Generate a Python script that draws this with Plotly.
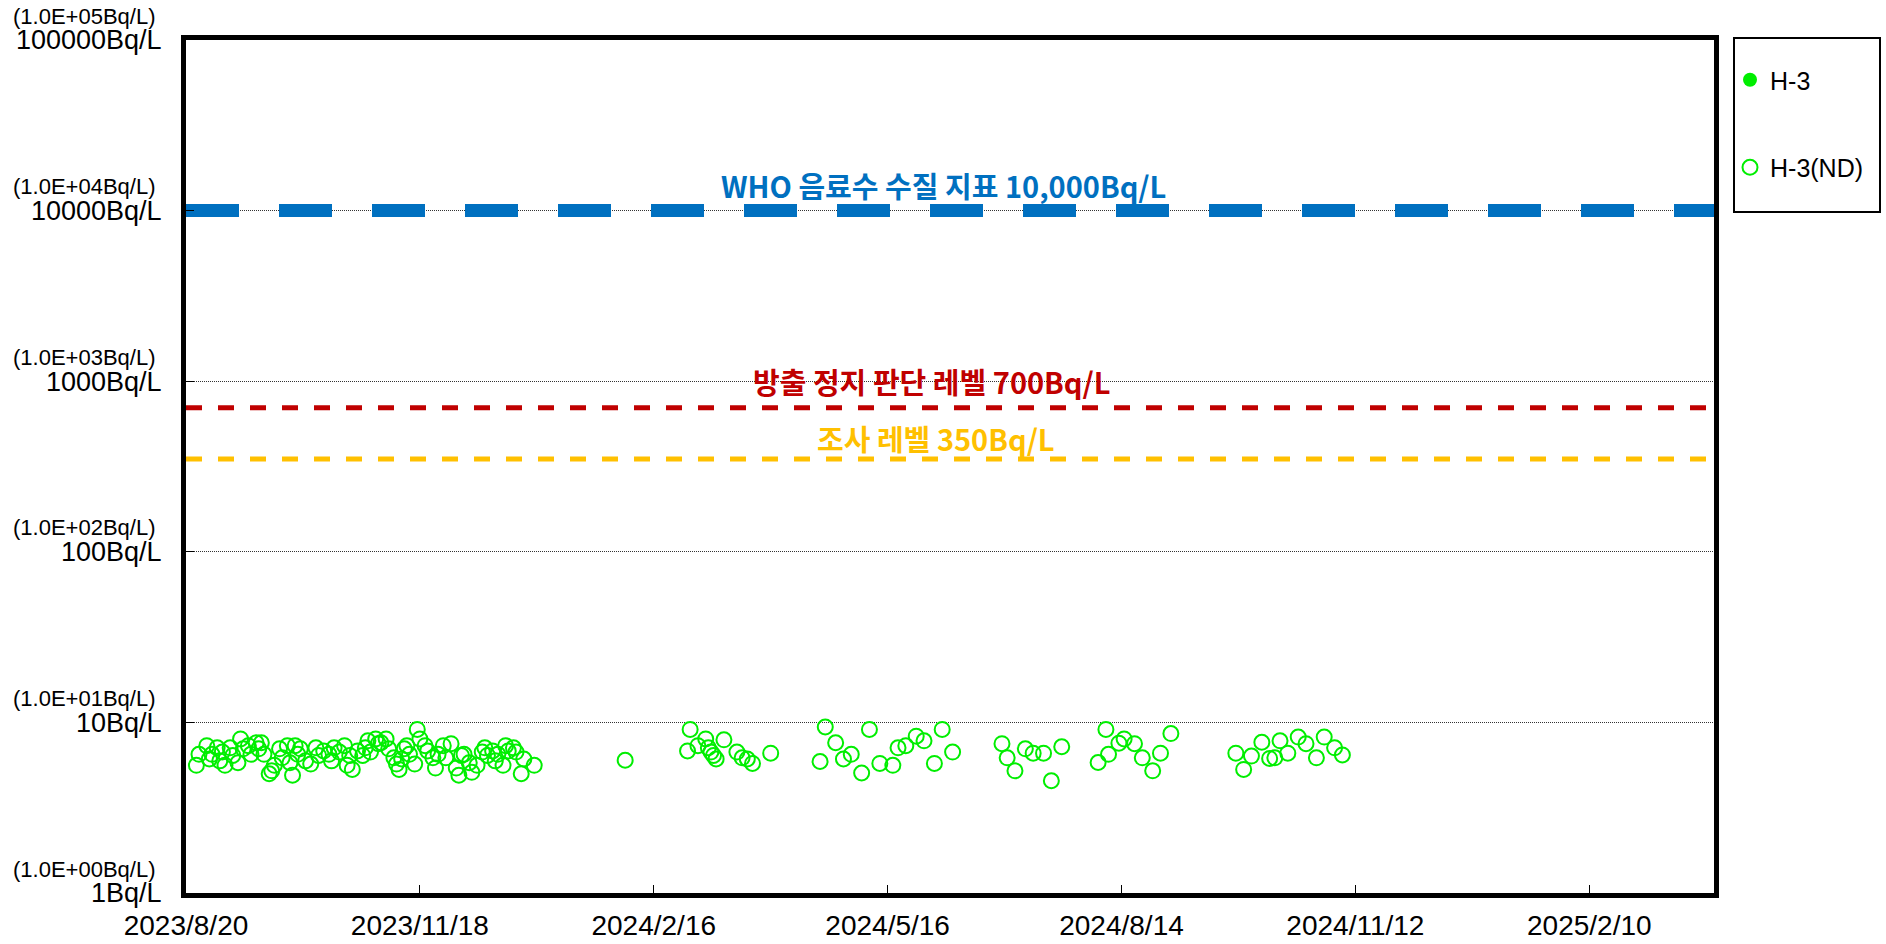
import math
import plotly.graph_objects as go

# ---------------- data ----------------
# H-3 detected values (none detected in this period)
h3_dates = []
h3_values = []

# H-3 not detected (ND) values, Bq/L
nd_dates = [
    "2023-08-24", "2023-08-25", "2023-08-28", "2023-08-29", "2023-08-30", "2023-09-01",
    "2023-09-02", "2023-09-03", "2023-09-04", "2023-09-06", "2023-09-07", "2023-09-09",
    "2023-09-10", "2023-09-11", "2023-09-13", "2023-09-14", "2023-09-16", "2023-09-17",
    "2023-09-18", "2023-09-19", "2023-09-21", "2023-09-22", "2023-09-23", "2023-09-25",
    "2023-09-26", "2023-09-28", "2023-09-29", "2023-09-30", "2023-10-01", "2023-10-02",
    "2023-10-03", "2023-10-05", "2023-10-07", "2023-10-09", "2023-10-10", "2023-10-12",
    "2023-10-14", "2023-10-15", "2023-10-16", "2023-10-18", "2023-10-20", "2023-10-21",
    "2023-10-22", "2023-10-23", "2023-10-25", "2023-10-27", "2023-10-28", "2023-10-29",
    "2023-10-30", "2023-11-01", "2023-11-02", "2023-11-03", "2023-11-05", "2023-11-06",
    "2023-11-08", "2023-11-09", "2023-11-10", "2023-11-11", "2023-11-12", "2023-11-13",
    "2023-11-14", "2023-11-16", "2023-11-17", "2023-11-18", "2023-11-20", "2023-11-21",
    "2023-11-23", "2023-11-24", "2023-11-25", "2023-11-27", "2023-11-28", "2023-11-30",
    "2023-12-02", "2023-12-03", "2023-12-04", "2023-12-05", "2023-12-07", "2023-12-08",
    "2023-12-10", "2023-12-12", "2023-12-13", "2023-12-14", "2023-12-16", "2023-12-17",
    "2023-12-18", "2023-12-20", "2023-12-21", "2023-12-22", "2023-12-24", "2023-12-25",
    "2023-12-27", "2023-12-28", "2024-01-01",
    "2024-02-05",
    "2024-02-29", "2024-03-01", "2024-03-04", "2024-03-07", "2024-03-08", "2024-03-09",
    "2024-03-10", "2024-03-11", "2024-03-14", "2024-03-19", "2024-03-21", "2024-03-23",
    "2024-03-25", "2024-04-01",
    "2024-04-20", "2024-04-22", "2024-04-26", "2024-04-29", "2024-05-02", "2024-05-06",
    "2024-05-09", "2024-05-13", "2024-05-18", "2024-05-20", "2024-05-23", "2024-05-27",
    "2024-05-30", "2024-06-03", "2024-06-06", "2024-06-10",
    "2024-06-29", "2024-07-01", "2024-07-04", "2024-07-08", "2024-07-11", "2024-07-15",
    "2024-07-18", "2024-07-22",
    "2024-08-05", "2024-08-08", "2024-08-09", "2024-08-13", "2024-08-15", "2024-08-19",
    "2024-08-22", "2024-08-26", "2024-08-29", "2024-09-02",
    "2024-09-27", "2024-09-30", "2024-10-03", "2024-10-07", "2024-10-10", "2024-10-12",
    "2024-10-14", "2024-10-17", "2024-10-21", "2024-10-24", "2024-10-28", "2024-10-31",
    "2024-11-04", "2024-11-07",
]
nd_values = [
    5.6, 6.5, 7.3, 6.1, 6.5, 7.1,
    5.95, 6.7, 5.6, 7.1, 6.4, 5.8,
    8.0, 7.0, 7.3, 6.5, 7.6, 7.0,
    7.6, 6.5, 5.0, 5.2, 5.6, 7.0,
    6.2, 7.3, 5.8, 4.9, 7.3, 6.5,
    7.0, 5.95, 5.7, 7.1, 6.4, 6.8,
    6.5, 5.95, 7.1, 6.7, 7.3, 5.6,
    6.4, 5.3, 6.8, 6.4, 7.1, 7.8,
    6.7, 8.0, 7.5, 7.6, 8.0, 7.0,
    6.2, 5.7, 5.3, 6.1, 7.0, 7.3,
    6.5, 5.7, 9.1, 8.0, 7.3, 6.8,
    6.2, 5.4, 6.5, 7.3, 6.2, 7.5,
    5.4, 4.9, 6.4, 6.5, 5.8, 5.1,
    5.6, 6.7, 7.1, 6.4, 6.8, 5.95,
    6.5, 5.6, 7.3, 6.8, 7.1, 6.7,
    5.0, 6.1, 5.6,
    6.0,
    6.8, 9.1, 7.3, 8.0, 7.1, 6.7,
    6.4, 6.1, 7.9, 6.7, 6.2, 6.1,
    5.75, 6.6,
    5.9, 9.4, 7.6, 6.1, 6.5, 5.05,
    9.1, 5.75, 5.6, 7.1, 7.3, 8.3,
    7.8, 5.75, 9.1, 6.7,
    7.5, 6.2, 5.2, 7.0, 6.6, 6.6,
    4.55, 7.2,
    5.82, 9.1, 6.5, 7.55, 8.0, 7.5,
    6.2, 5.2, 6.6, 8.6,
    6.6, 5.3, 6.35, 7.65, 6.15, 6.2,
    7.8, 6.6, 8.2, 7.5, 6.2, 8.2,
    7.1, 6.45,
]

x_start = "2023-08-20"
x_end = "2025-03-30"
x_tick_dates = ["2023-08-20", "2023-11-18", "2024-02-16", "2024-05-16",
                "2024-08-14", "2024-11-12", "2025-02-10"]
x_tick_labels = ["2023/8/20", "2023/11/18", "2024/2/16", "2024/5/16",
                 "2024/8/14", "2024/11/12", "2025/2/10"]

y_tick_values = [1, 10, 100, 1000, 10000, 100000]
y_tick_labels = ["1Bq/L", "10Bq/L", "100Bq/L", "1000Bq/L", "10000Bq/L", "100000Bq/L"]
y_tick_sci = ["(1.0E+00Bq/L)", "(1.0E+01Bq/L)", "(1.0E+02Bq/L)",
              "(1.0E+03Bq/L)", "(1.0E+04Bq/L)", "(1.0E+05Bq/L)"]

ref_levels = [10000, 700, 350]
ref_labels = ["WHO 음료수 수질 지표 10,000Bq/L", "방출 정지 판단 레벨 700Bq/L", "조사 레벨 350Bq/L"]
ref_colors = ["#0070C0", "#C00000", "#FFC000"]
ref_widths = [13, 5, 5]
ref_dashes = ["53px,40px", "16px,16px", "16px,16px"]
ref_label_x = [0.496, 0.488, 0.491]
ref_label_shift = [26, 27, 21]

GREEN = "#00EE00"
TICK_FONT = "Liberation Sans, Arial, sans-serif"
KR_FONT = "Noto Sans CJK KR, sans-serif"

fig = go.Figure()

# reference level lines
for lvl, col, w, d in zip(ref_levels, ref_colors, ref_widths, ref_dashes):
    fig.add_trace(go.Scatter(
        x=[x_start, x_end], y=[lvl, lvl], mode="lines",
        line=dict(color=col, width=w, dash=d),
        showlegend=False, hoverinfo="skip"))

fig.add_trace(go.Scatter(
    x=h3_dates if h3_dates else [None], y=h3_values if h3_values else [None],
    mode="markers", name="H-3", legendgroup="a",
    marker=dict(symbol="circle", size=14, color=GREEN)))

fig.add_trace(go.Scatter(
    x=nd_dates, y=nd_values, mode="markers", name="H-3(ND)", legendgroup="b",
    marker=dict(symbol="circle-open", size=15, color=GREEN, line=dict(width=2, color=GREEN))))

annotations = []
for lvl, lab, col, lx, sh in zip(ref_levels, ref_labels, ref_colors, ref_label_x, ref_label_shift):
    annotations.append(dict(
        x=lx, xref="paper", y=math.log10(lvl), yref="y", yshift=sh,
        text="<b>" + lab + "</b>", showarrow=False, xanchor="center", yanchor="middle",
        font=dict(family=KR_FONT, size=29, color=col)))

for v, s in zip(y_tick_values, y_tick_sci):
    annotations.append(dict(
        x=0, xref="paper", xshift=-29, y=math.log10(v), yref="y", yshift=24,
        text=s, showarrow=False, xanchor="right", yanchor="middle",
        font=dict(family=TICK_FONT, size=22, color="black")))

L, R, T, B = 186, 172, 40, 51
W, H = 1886, 944
pw = W - L - R
ph = H - T - B

def px_x(p):
    return (p - L) / pw

def px_y(p):
    return (H - B - p) / ph

shapes = [dict(type="rect", xref="paper", yref="paper",
               x0=px_x(1734), x1=px_x(1880), y0=px_y(212), y1=px_y(38),
               line=dict(color="black", width=2), fillcolor="rgba(0,0,0,0)")]

fig.update_layout(
    width=W, height=H,
    margin=dict(l=L, r=R, t=T, b=B, autoexpand=False),
    paper_bgcolor="white", plot_bgcolor="white",
    showlegend=True,
    legend=dict(x=px_x(1730), y=px_y(57), xanchor="left", yanchor="top",
                font=dict(family=TICK_FONT, size=25, color="black"),
                bgcolor="rgba(0,0,0,0)", borderwidth=0,
                tracegroupgap=52, traceorder="grouped", itemwidth=30),
    annotations=annotations,
    shapes=shapes,
    xaxis=dict(
        type="date", range=[x_start, x_end], automargin=False,
        tickmode="array", tickvals=x_tick_dates, ticktext=x_tick_labels,
        ticks="inside", ticklen=8, tickwidth=1, tickcolor="black",
        showline=True, linecolor="black", linewidth=5, mirror=True,
        showgrid=False, zeroline=False, ticklabelstandoff=3,
        tickfont=dict(family=TICK_FONT, size=28, color="black")),
    yaxis=dict(
        type="log", range=[0, 5], automargin=False,
        tickmode="array", tickvals=y_tick_values, ticktext=y_tick_labels,
        ticks="inside", ticklen=8, tickwidth=1, tickcolor="black",
        showline=True, linecolor="black", linewidth=5, mirror=True,
        showgrid=True, gridcolor="#333333", gridwidth=1, griddash="1px,1px",
        zeroline=False, ticklabelstandoff=14,
        tickfont=dict(family=TICK_FONT, size=27, color="black")),
)

fig.write_html("out.html", config={"displayModeBar": False},
               post_script="document.body.style.margin='0';document.body.style.overflow='hidden';")
